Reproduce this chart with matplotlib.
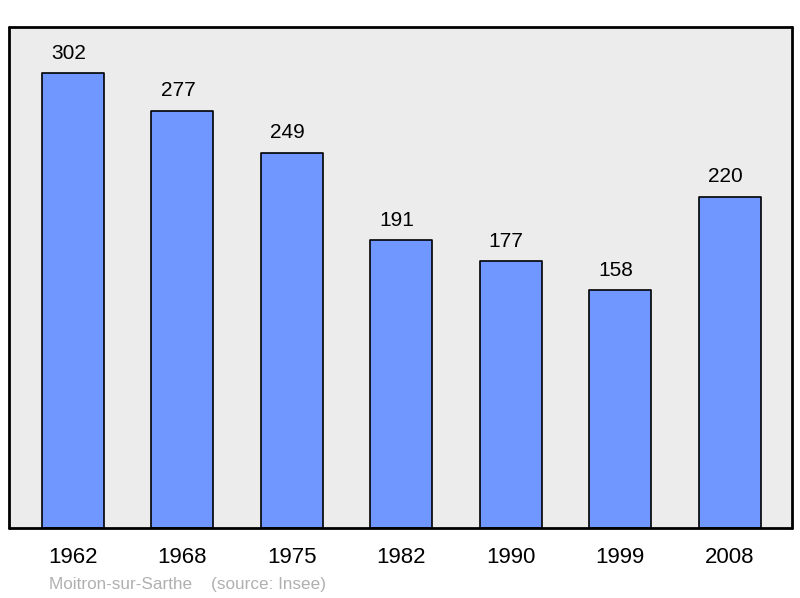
import matplotlib
matplotlib.use("Agg")
import matplotlib.pyplot as plt

years = ["1962", "1968", "1975", "1982", "1990", "1999", "2008"]
population = [302, 277, 249, 191, 177, 158, 220]
commune = "Moitron-sur-Sarthe"
source = "(source: Insee)"

plt.rcParams['font.family'] = ['Liberation Sans', 'DejaVu Sans']

W, H = 800, 598
fig = plt.figure(figsize=(W / 100, H / 100), dpi=100)
ax = fig.add_axes([9 / W, (H - 528) / H, 783 / W, 501 / H])
ax.set_facecolor("#ececec")

x = list(range(len(years)))
bars = ax.bar(x, population, width=0.567, color="#7096ff", edgecolor="black", linewidth=1.2, zorder=2)
for b in bars:
    b.set_joinstyle("round")
for xi, v in zip(x, population):
    ax.annotate(str(v), (xi, v), xytext=(-3.2, 7.5), textcoords="offset points",
                ha="center", va="bottom", fontsize=15, color="black")

ax.set_xlim(-0.585, 6.57)
ax.set_ylim(0, 332.5)
ax.set_xticks(x)
ax.set_xticklabels(years, fontsize=16)
ax.tick_params(axis="x", length=0, pad=14)
ax.set_yticks([])
ax.patch.set_joinstyle("round")
for s in ax.spines.values():
    s.set_linewidth(2)
    s.set_color("black")
    s.set_joinstyle("round")
    s.set_capstyle("round")

fig.text(49 / W, 1 - 584 / H, commune + "    " + source, fontsize=12.3, color="#b0b0b0",
         ha="left", va="center")

fig.savefig("out.png", dpi=100)
